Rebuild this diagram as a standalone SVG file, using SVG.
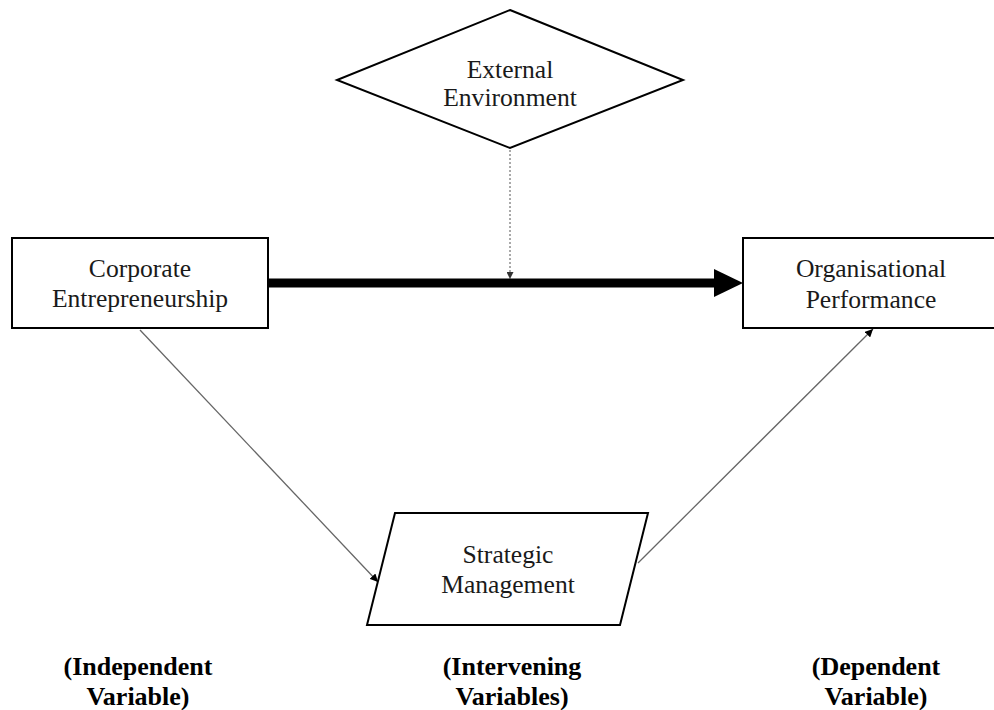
<svg xmlns="http://www.w3.org/2000/svg" width="994" height="710" viewBox="0 0 994 710">
<style>
.box{fill:#fff;stroke:#000;stroke-width:2}
.t{font-family:"Liberation Serif","Times New Roman",serif;font-size:25.6px;fill:#1a1a1a;text-anchor:middle}
.b{font-family:"Liberation Serif","Times New Roman",serif;font-size:26px;font-weight:bold;fill:#000;text-anchor:middle}
.thin{stroke:#666;stroke-width:1.3;fill:none}
</style>
<defs>
<marker id="ah" viewBox="0 0 10 10" refX="10" refY="5" markerWidth="8" markerHeight="8" markerUnits="userSpaceOnUse" orient="auto">
<path d="M0,0 L10,5 L0,10 z" fill="#000"/>
</marker>
<marker id="ahs" viewBox="0 0 10 10" refX="10" refY="5" markerWidth="7" markerHeight="7" markerUnits="userSpaceOnUse" orient="auto">
<path d="M0,0 L10,5 L0,10 z" fill="#333"/>
</marker>
</defs>
<rect width="994" height="710" fill="#fff"/>
<g id="connectors">
<line x1="268" y1="283" x2="716" y2="283" stroke="#000" stroke-width="9"/>
<polygon points="714,269 743,283 714,297" fill="#000"/>
<line x1="510" y1="150" x2="510" y2="279" stroke="#555" stroke-width="1" stroke-dasharray="2,2" marker-end="url(#ahs)"/>
<line class="thin" x1="140" y1="330" x2="378" y2="582" marker-end="url(#ah)"/>
<line class="thin" x1="638" y1="563" x2="873" y2="329" marker-end="url(#ah)"/>
</g>
<g id="external">
<polygon class="box" points="510,10 683,80 510,148 337,80" stroke-width="1.5"/>
<text class="t" x="510" y="78">External</text>
<text class="t" x="510" y="106">Environment</text>
</g>
<g id="corporate">
<rect class="box" x="12" y="238" width="256" height="90"/>
<text class="t" x="140" y="277">Corporate</text>
<text class="t" x="140" y="307">Entrepreneurship</text>
</g>
<g id="organisational">
<rect class="box" x="743" y="238" width="260" height="90"/>
<text class="t" x="871" y="277">Organisational</text>
<text class="t" x="871" y="308">Performance</text>
</g>
<g id="strategic">
<polygon class="box" points="395,513 648,513 620,625 367,625" stroke-width="1.5"/>
<text class="t" x="508" y="563">Strategic</text>
<text class="t" x="508" y="593">Management</text>
</g>
<g id="labels">
<text class="b" x="138" y="675">(Independent</text>
<text class="b" x="138" y="705">Variable)</text>
<text class="b" x="512" y="675">(Intervening</text>
<text class="b" x="512" y="705">Variables)</text>
<text class="b" x="876" y="675">(Dependent</text>
<text class="b" x="876" y="705">Variable)</text>
</g>
</svg>
